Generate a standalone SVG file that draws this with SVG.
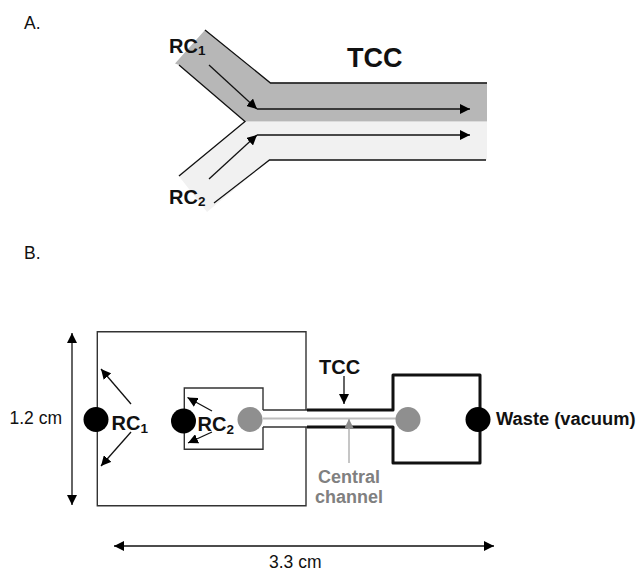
<svg xmlns="http://www.w3.org/2000/svg" width="636" height="572" viewBox="0 0 636 572">
<defs>
<marker id="ah" viewBox="0 0 10 10" refX="10" refY="5" markerWidth="10" markerHeight="10" markerUnits="userSpaceOnUse" orient="auto-start-reverse"><path d="M0 0L10 5L0 10Z" fill="#000"/></marker>
<marker id="ahg" viewBox="0 0 10 10" refX="10" refY="5" markerWidth="9" markerHeight="9" markerUnits="userSpaceOnUse" orient="auto"><path d="M0 0L10 5L0 10Z" fill="#8c8c8c"/></marker>
</defs>
<style>
text{font-family:"Liberation Sans",Arial,sans-serif;fill:#111}
.b{font-weight:bold}
.n{font-size:17.500px}
.l{font-size:20px;font-weight:bold}
.s{font-size:13.500px;font-weight:bold}
.w{fill:none;stroke:#333;stroke-width:1.4}
.t{fill:none;stroke:#111;stroke-width:3}
.c{fill:none;stroke:#111;stroke-width:1.3}
.a{marker-end:url(#ah)}
.dot{fill:#000}
.gdot{fill:#8f8f8f}
.gt{fill:#808080;font-size:18px;font-weight:bold;text-anchor:middle}
</style>
<rect width="636" height="572" fill="#fff"/>
<text class="n" x="24" y="29">A.</text>
<text class="n" x="24" y="259">B.</text>
<g id="channel-rc1"><path d="M205 30L270.500 82.500H487V121.500H245L179 65L175 63.500Z" fill="#b7b7b7"/></g>
<g id="channel-rc2"><path d="M245 122H487V160H270L207 212L178 175Z" fill="#f1f1f1"/></g>
<g id="connectors-a">
<path class="c" d="M205 30L270.500 83H487"/>
<path class="c" d="M179 65L245 121.500L179 176"/>
<path class="c" d="M214 203L269.500 160H486"/>
<path class="c a" d="M209 65L257 109"/>
<path class="c a" d="M257 109H470"/>
<path class="c a" d="M209 179L257 135"/>
<path class="c a" d="M257 135H470"/>
</g>
<g id="label-tcc-a"><text class="b" x="347" y="67" font-size="27">TCC</text></g>
<g id="label-rc1-a"><text class="l" x="169" y="52.500">RC<tspan class="s" dy="2.500">1</tspan></text></g>
<g id="label-rc2-a"><text class="l" x="169" y="203.500">RC<tspan class="s" dy="2.500">2</tspan></text></g>
<g id="chip-outer"><path class="w" d="M306 410V331.700H97.300V505.700H306V427"/></g>
<g id="chip-inner"><path class="w" d="M263 410V388H184.300V449.300H263V427"/></g>
<g id="channel-b">
<path class="w" d="M263 410H307M263 427H307"/>
<path d="M263 418.500H397" stroke="#bdbdbd" stroke-width="2" fill="none"/>
<path class="t" d="M307 410H393V375H480V463H393V427H307" stroke-linejoin="round"/>
</g>
<g id="connectors-b">
<path class="c a" d="M131 404L101 369"/>
<path class="c a" d="M131 432L101 466"/>
<path class="c a" d="M212 411L187.500 397.500"/>
<path class="c a" d="M212 432L188 443"/>
<path class="c a" d="M344 376V404"/>
<path d="M349 463V419" fill="none" stroke="#a8a8a8" stroke-width="1.300" marker-end="url(#ahg)"/>
<path class="c a" d="M72 333V505" marker-start="url(#ah)"/>
<path class="c a" d="M114 546H494" marker-start="url(#ah)"/>
</g>
<g id="port-rc1"><circle class="dot" cx="96" cy="419.500" r="12.500"/></g>
<g id="port-rc2"><circle class="dot" cx="183.500" cy="421" r="12.500"/></g>
<g id="port-center-left"><circle class="gdot" cx="250" cy="419.500" r="12.500"/></g>
<g id="port-center-right"><circle class="gdot" cx="408" cy="419.500" r="12.500"/></g>
<g id="port-waste"><circle class="dot" cx="478" cy="419.500" r="12.500"/></g>
<g id="labels-b">
<text class="l" x="111.500" y="430">RC<tspan class="s" dy="2.500">1</tspan></text>
<text class="l" x="197.500" y="431">RC<tspan class="s" dy="2.500">2</tspan></text>
<text class="b" x="319" y="374" font-size="20">TCC</text>
<text class="b" x="496" y="425" font-size="18.300">Waste (vacuum)</text>
<text class="gt" x="349" y="483">Central</text>
<text class="gt" x="349" y="503">channel</text>
<text class="n" x="9.500" y="424">1.2 cm</text>
<text class="n" x="269" y="567.500">3.3 cm</text>
</g>
</svg>
